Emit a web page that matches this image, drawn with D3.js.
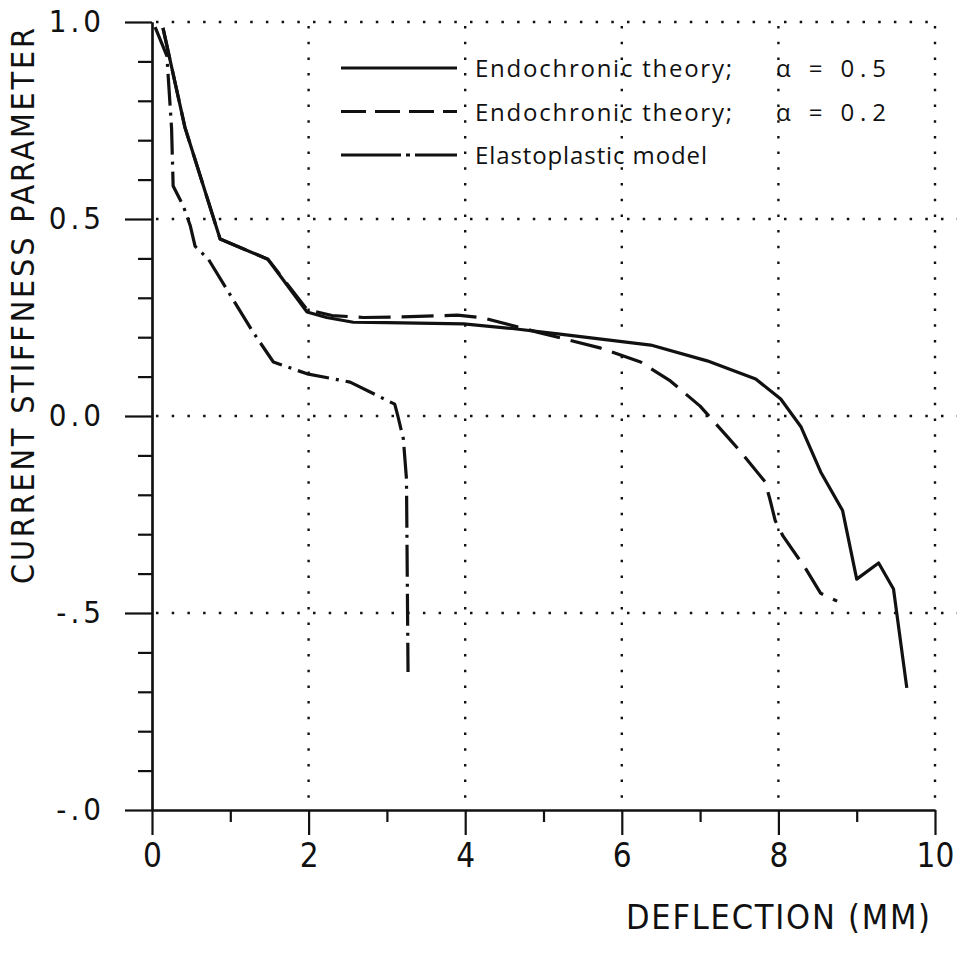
<!DOCTYPE html>
<html>
<head>
<meta charset="utf-8">
<script src="https://cdn.jsdelivr.net/npm/d3@7"></script>
<style>
  body { margin: 0; background: #fff; }
  svg { display: block; }
  .plot-font { font-family: "DejaVu Sans Condensed", "DejaVu Sans", sans-serif; font-weight: 200; }
</style>
</head>
<body>
<svg id="chart"></svg>
<script>
// deflection (mm) vs current stiffness parameter
const endo05X = [0.14, 0.42, 0.87, 1.48, 1.98, 2.23, 2.57, 3.0, 3.98, 4.6, 5.21, 6.37, 7.09, 7.71, 8.03, 8.29, 8.54, 8.82, 9.0, 9.28, 9.47, 9.64];
const endo05Y = [0.985, 0.733, 0.449, 0.398, 0.264, 0.25, 0.238, 0.237, 0.234, 0.222, 0.208, 0.18, 0.14, 0.094, 0.043, -0.028, -0.142, -0.24, -0.414, -0.373, -0.439, -0.69];

const endo02X = [0.14, 0.42, 0.87, 1.48, 1.98, 2.3, 2.7, 3.3, 3.9, 4.23, 4.92, 5.72, 6.24, 6.62, 7.0, 7.35, 7.51, 7.83, 7.89, 7.96, 8.06, 8.35, 8.54, 8.75];
const endo02Y = [0.985, 0.733, 0.449, 0.398, 0.27, 0.255, 0.25, 0.252, 0.256, 0.249, 0.213, 0.173, 0.137, 0.089, 0.025, -0.053, -0.089, -0.167, -0.21, -0.266, -0.305, -0.388, -0.45, -0.47];

const elastoX = [0.04, 0.19, 0.25, 0.27, 0.40, 0.49, 0.55, 0.72, 1.29, 1.55, 1.98, 2.53, 3.1, 3.14, 3.21, 3.25, 3.27];
const elastoY = [0.987, 0.914, 0.73, 0.584, 0.533, 0.482, 0.431, 0.398, 0.213, 0.137, 0.107, 0.086, 0.03, 0.0, -0.058, -0.16, -0.65];

const xMajor = [0, 2, 4, 6, 8, 10];
const xMinor = [1, 3, 5, 7, 9];
const yMajor = [1.0, 0.5, 0.0, -0.5, -1.0];
const yMajorLabels = ["1.0", "0.5", "0.0", "-.5", "-.0"];
const yMinor = [0.9, 0.8, 0.7, 0.6, 0.4, 0.3, 0.2, 0.1, -0.1, -0.2, -0.3, -0.4, -0.6, -0.7, -0.8, -0.9];

const legendLabels = ["Endochronic theory;", "Endochronic theory;", "Elastoplastic model"];
const legendAlpha = ["0.5", "0.2", null];

let svg = d3.select("#chart")
  .attr("width", 957)
  .attr("height", 956);

let x = d3.scaleLinear().domain([0, 10]).range([152, 935]);
let y = d3.scaleLinear().domain([-1, 1]).range([810, 22]);

// dotted grid
const dots = "2.5 13.2";
let grid = svg.append("g")
  .attr("stroke", "#111")
  .attr("stroke-width", 2.4)
  .attr("stroke-dasharray", dots);

grid.selectAll("line.h")
  .data([1.0, 0.5, 0.0, -0.5])
  .join("line")
    .attr("class", "h")
    .attr("x1", x(0) + 4)
    .attr("x2", d => d === 1.0 ? x(10) : 957)
    .attr("y1", d => y(d))
    .attr("y2", d => y(d));

grid.selectAll("line.v")
  .data([2, 4, 6, 8, 10])
  .join("line")
    .attr("class", "v")
    .attr("x1", d => x(d))
    .attr("x2", d => x(d))
    .attr("y1", y(1) + 4)
    .attr("y2", y(-1));

// axes
const styleAxis = (g) => {
  g.select(".domain").attr("stroke", "#111").attr("stroke-width", 2.2);
  g.selectAll(".tick line").attr("stroke", "#111").attr("stroke-width", 2.2);
};

svg.append("g")
  .attr("transform", `translate(${x(0)},0)`)
  .call(d3.axisLeft(y).tickValues(yMinor).tickSize(14).tickSizeOuter(0).tickFormat(""))
  .call(styleAxis);

svg.append("g")
  .attr("class", "plot-font")
  .attr("transform", `translate(${x(0)},0)`)
  .call(d3.axisLeft(y).tickValues(yMajor).tickSize(27).tickSizeOuter(0).tickPadding(20)
    .tickFormat((d, i) => yMajorLabels[i]))
  .call(styleAxis)
  .call(g => g.selectAll("text")
    .attr("font-size", 31)
    .attr("letter-spacing", 4)
    .attr("fill", "#111")
    .attr("font-family", "DejaVu Sans Condensed, DejaVu Sans, sans-serif"));

svg.append("g")
  .attr("transform", `translate(0,${y(-1)})`)
  .call(d3.axisBottom(x).tickValues(xMinor).tickSize(12).tickSizeOuter(0).tickFormat(""))
  .call(styleAxis);

svg.append("g")
  .attr("transform", `translate(0,${y(-1)})`)
  .call(d3.axisBottom(x).tickValues(xMajor).tickSize(25).tickSizeOuter(0).tickPadding(9))
  .call(styleAxis)
  .call(g => g.selectAll("text")
    .attr("font-size", 33)
    .attr("fill", "#111")
    .attr("font-family", "DejaVu Sans Condensed, DejaVu Sans, sans-serif"));

// axis titles
svg.append("text")
  .attr("class", "plot-font")
  .attr("transform", "translate(34,306) rotate(-90)")
  .attr("text-anchor", "middle")
  .attr("font-size", 32)
  .attr("fill", "#111")
  .attr("textLength", 556)
  .attr("lengthAdjust", "spacing")
  .text("CURRENT STIFFNESS PARAMETER");

svg.append("text")
  .attr("class", "plot-font")
  .attr("x", 626)
  .attr("y", 929)
  .attr("font-size", 34)
  .attr("fill", "#111")
  .attr("textLength", 304)
  .attr("lengthAdjust", "spacing")
  .text("DEFLECTION (MM)");

// curves
const series = [
  { xs: endo05X, ys: endo05Y, dash: null },
  { xs: endo02X, ys: endo02Y, dash: "32 11" },
  { xs: elastoX, ys: elastoY, dash: "32 7 3 7" },
];

let line = d3.line().x(d => x(d[0])).y(d => y(d[1]));

svg.append("g")
  .selectAll("path")
  .data(series)
  .join("path")
    .attr("d", s => line(d3.zip(s.xs, s.ys)))
    .attr("fill", "none")
    .attr("stroke", "#111")
    .attr("stroke-width", 3.2)
    .attr("stroke-linejoin", "round")
    .attr("stroke-dasharray", s => s.dash);

// legend
let legend = svg.append("g");
let rows = legend.selectAll("g")
  .data(series)
  .join("g")
    .attr("transform", (d, i) => `translate(0,${68 + i * 43.5})`);

rows.append("line")
  .attr("x1", 341)
  .attr("x2", 457)
  .attr("stroke", "#111")
  .attr("stroke-width", 3)
  .attr("stroke-dasharray", (d, i) => i === 1 ? "25 9" : i === 2 ? "60 5 4 5" : null);

rows.append("text")
  .attr("x", 475)
  .attr("y", 9)
  .attr("font-family", "Open Sans, sans-serif")
  .attr("font-size", 24)
  .attr("fill", "#111")
  .attr("textLength", (d, i) => i === 2 ? 232 : 257)
  .attr("lengthAdjust", "spacing")
  .text((d, i) => legendLabels[i]);

rows.filter((d, i) => legendAlpha[i])
  .append("text")
  .attr("x", 776)
  .attr("y", 9)
  .attr("font-family", "Open Sans, sans-serif")
  .attr("font-size", 24)
  .attr("fill", "#111")
  .attr("xml:space", "preserve")
  .text((d, i) => `α = ${legendAlpha[i]}`)
  .attr("textLength", 110)
  .attr("lengthAdjust", "spacing");
</script>
</body>
</html>
